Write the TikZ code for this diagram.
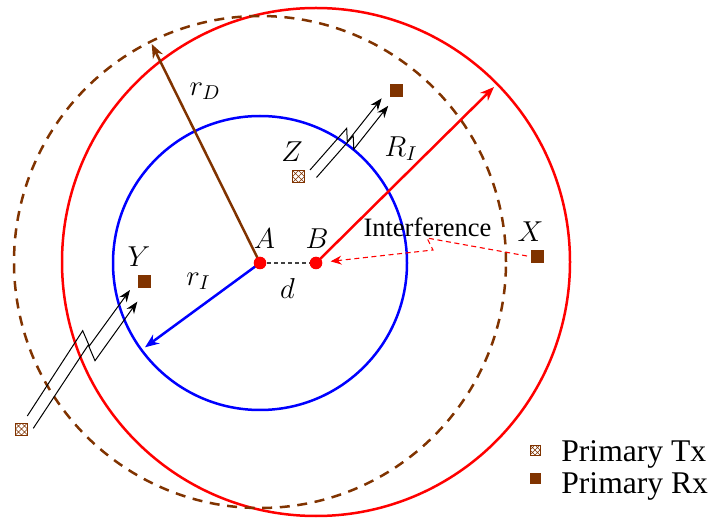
\documentclass[tikz,border=0pt]{standalone}
\usepackage{fontspec}
\setmainfont{Liberation Serif}
\usetikzlibrary{arrows.meta,calc}
\definecolor{brn}{RGB}{128,51,0}
\begin{document}
\begin{tikzpicture}[x=0.5pt,y=-0.5pt,
  dot/.style={circle,fill=red,inner sep=0pt,minimum size=6.3pt},
  rx/.style={rectangle,fill=brn,inner sep=0pt,minimum size=6.5pt},
  tx/.style={rectangle,draw=brn,line width=0.4pt,fill=white,inner sep=0pt,minimum size=6pt,
    path picture={\draw[brn,line width=0.25pt]
      (path picture bounding box.south west) -- (path picture bounding box.north east)
      (path picture bounding box.north west) -- (path picture bounding box.south east)
      (path picture bounding box.north) -- (path picture bounding box.east) -- (path picture bounding box.south) -- (path picture bounding box.west) -- cycle;}},
  lbl/.style={font=\fontsize{14.5}{17}\selectfont},
  thick line/.style={line width=1.25pt},
  arr/.style={-{Stealth[length=7pt,width=5.5pt]}},
  bolt/.style={black,line width=0.5pt,-{Stealth[length=6pt,width=4.5pt]}},
  legtext/.style={anchor=base west,font=\fontsize{15.8}{18}\selectfont,inner sep=0pt}]
\useasboundingbox (0,0) rectangle (718,518);

% centres
\coordinate (cA) at (260,263);
\coordinate (cB) at (316,263);

% circles
\draw[blue,thick line] (cA) circle[radius=73.5pt];
\draw[red,thick line] (316,262) circle[radius=127pt];
\draw[brn,thick line,dash pattern=on 5pt off 3.8pt] (260,262) circle[radius=123pt];

% radius end points
\coordinate (rD) at (151.7,44);
\coordinate (RI) at (494,87);
\coordinate (rI) at (145,347.3);

\draw[brn,thick line,arr] (cA) -- (rD);
\draw[red,thick line,arr] (cB) -- (RI);
\draw[blue,thick line,arr] (cA) -- (rI);
\draw[black!75,line width=0.6pt,dash pattern=on 2pt off 1.5pt] (cA) -- (cB);

% dots
\node[dot] (A) at (cA) {};
\node[dot] (B) at (cB) {};

% receivers and transmitters
\node[rx] (Yrx) at (144.5,281.5) {};
\node[rx] (Xrx) at (537.5,256.5) {};
\node[rx] (Zrx) at (396.5,90.5) {};
\node[tx] (Ztx) at (298.5,176.5) {};
\node[tx] (Ytx) at (21.5,429) {};

% labels
\node[lbl] at (264.5,239) {$A$};
\node[lbl] at (317,239) {$B$};
\node[lbl] at (287.5,289) {$d$};
\node[lbl] at (139,257) {$Y$};
\node[lbl] at (198.5,281) {$r_I$};
\node[lbl] at (530.5,232) {$X$};
\node[lbl] at (292,152) {$Z$};
\node[lbl] at (401,149) {$R_I$};
\node[lbl] at (205,91) {$r_D$};

% lightning Z
\coordinate (z1s) at (310,170);   \coordinate (z1p) at (346.7,128.3);
\coordinate (z1j) at (347.3,141.7); \coordinate (z1e) at (381.7,98.3);
\coordinate (z2s) at (316.5,177.5); \coordinate (z2p) at (353.2,135.8);
\coordinate (z2j) at (353.8,149.2); \coordinate (z2e) at (388.2,105.8);
\draw[bolt] (z1s) -- (z1p) -- (z1j) -- (z1e);
\draw[bolt] (z2s) -- (z2p) -- (z2j) -- (z2e);

% lightning Y
\coordinate (y1s) at (27.3,416);  \coordinate (y1p) at (82.7,330.7);
\coordinate (y1j) at (89.3,346);  \coordinate (y1e) at (130,290);
\coordinate (y2s) at (33.3,428.3); \coordinate (y2p) at (88.3,345);
\coordinate (y2j) at (95,360.7);  \coordinate (y2e) at (137.3,301.7);
\draw[bolt] (y1s) -- (y1p) -- (y1j) -- (y1e);
\draw[bolt] (y2s) -- (y2p) -- (y2j) -- (y2e);

% interference
\node[font=\fontsize{13.25}{15}\selectfont,inner sep=0pt] (intf) at (427.5,227) {Interference};
\coordinate (i1) at (527,256);
\coordinate (i2) at (427,238);
\coordinate (i3) at (433,250);
\draw[red,line width=0.55pt,dash pattern=on 2.5pt off 1.8pt,-{Stealth[length=5.5pt,width=4.5pt]},shorten >=4pt]
  (i1) -- (i2) -- (i3) -- (B);

% legend
\node[tx,minimum size=5pt] (lt) at (535,450) {};
\node[rx,minimum size=5.5pt] (lr) at (535.5,478.5) {};
\node[legtext] at (561,461) {Primary Tx};
\node[legtext] at (561,493) {Primary Rx};
\end{tikzpicture}
\end{document}
